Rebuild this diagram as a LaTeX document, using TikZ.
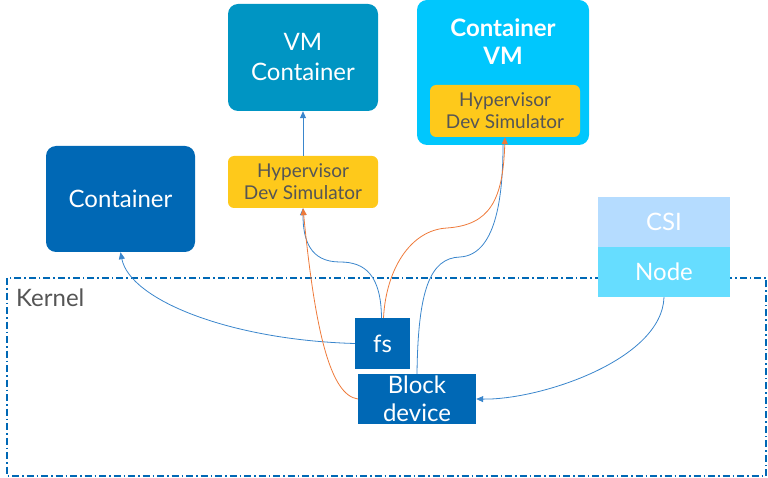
\documentclass[tikz,border=0pt]{standalone}
\usepackage{fontspec}
\setmainfont{Lato}
\usetikzlibrary{arrows.meta}
\definecolor{intelblue}{HTML}{0068B5}
\definecolor{vmteal}{HTML}{0095C3}
\definecolor{cvmcyan}{HTML}{00C7FD}
\definecolor{hypyellow}{HTML}{FEC91B}
\definecolor{csiblue}{HTML}{B5DCFF}
\definecolor{nodecyan}{HTML}{66DDFF}
\definecolor{linkblue}{HTML}{3A86CC}
\definecolor{linkorange}{HTML}{EE7A3A}
\definecolor{txtgray}{HTML}{555555}
\tikzset{
  bigbox/.style={rounded corners=10pt, inner sep=0pt, text=white, align=center, font=\fontsize{24}{30}\selectfont},
  cont/.style={bigbox, fill=intelblue, minimum width=149pt, minimum height=106pt},
  vmc/.style={bigbox, fill=vmteal, minimum width=150pt, minimum height=107pt},
  cvm/.style={bigbox, fill=cvmcyan, minimum width=172pt, minimum height=145pt},
  hyp/.style={rounded corners=6pt, inner sep=0pt, fill=hypyellow, text=txtgray, align=center, minimum width=150pt, minimum height=52pt, font=\fontsize{19}{22}\selectfont},
  kbox/.style={inner sep=0pt, fill=intelblue, text=white, align=center, font=\fontsize{24}{28}\selectfont},
  csibox/.style={inner sep=0pt, text=white, minimum width=132pt, minimum height=50pt, font=\fontsize{24}{27}\selectfont},
  kernline/.style={draw=intelblue, line width=1.1pt, dash pattern=on 7pt off 3pt on 1.5pt off 3pt},
  bluelink/.style={draw=linkblue, line width=0.8pt},
  orangelink/.style={draw=linkorange, line width=0.8pt},
  tip/.style={-{Triangle[length=7pt,width=6pt]}},
}
\begin{document}
\begin{tikzpicture}[x=1pt,y=-1pt]
\useasboundingbox (0,0) rectangle (768,478);
\draw[kernline] (7,278) rectangle (766,476);
\node[anchor=west, text=txtgray, font=\fontsize{24}{27}\selectfont, inner sep=0pt] (kern) at (16,298) {Kernel};

\node[cont] (con) at (120.5,199) {Container};
\node[vmc] (vm) at (303,57.5) {VM\\Container};
\node[cvm] (cvm) at (503,72.5) {};
\node[anchor=north, text=white, align=center, inner sep=0pt, font=\bfseries\fontsize{24}{28}\selectfont] (cvmtxt) at (503,19) {Container\\VM};
\node[hyp] (cvmhyp) at (505,111) {Hypervisor\\Dev Simulator};
\node[hyp] (hyp) at (303,182) {Hypervisor\\Dev Simulator};

\node[csibox, fill=csiblue] (csi) at (664,222) {CSI};
\node[csibox, fill=nodecyan] (nd) at (664,272) {Node};

\node[kbox, minimum width=55pt, minimum height=51pt] (fs) at (382.5,343.5) {fs};
\node[kbox, minimum width=118pt, minimum height=50pt] (bd) at (417,399) {Block\\device};

\draw[bluelink, tip] (hyp.north) -- (vm.south);
\draw[bluelink, tip] (fs.west) .. controls (230,340) and (130,300) .. (con.south);
\draw[bluelink, tip] ([xshift=-1pt]fs.north) .. controls (381,275) and (365,262) .. (340,262) .. controls (310,262) and (303,240) .. (hyp.south);
\draw[bluelink] (bd.north) .. controls (418,290) and (430,258) .. (460,257) .. controls (495,255) and (503,200) .. (cvm.south);
\draw[orangelink, tip] ([xshift=1pt]fs.north) .. controls (386,270) and (410,230) .. (447,228) .. controls (490,225) and (503,200) .. (cvmhyp.south);
\draw[orangelink, tip] (bd.west) .. controls (330,395) and (315,330) .. (hyp.south);
\draw[bluelink, tip] (nd.south) .. controls (662,360) and (540,400) .. (bd.east);
\end{tikzpicture}
\end{document}
